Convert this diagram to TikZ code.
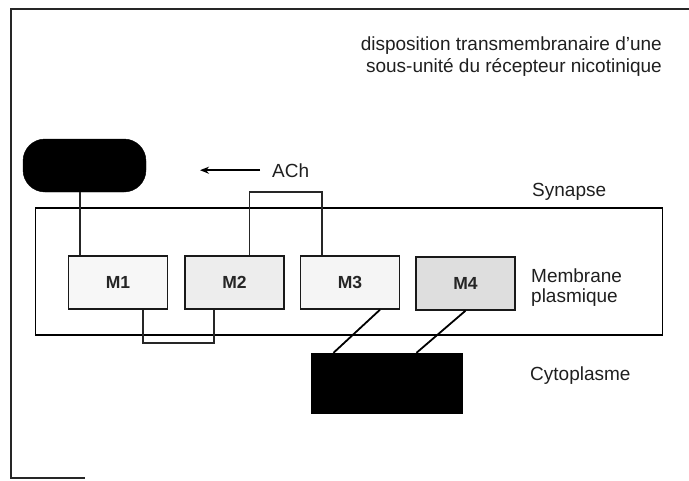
\documentclass[tikz,border=0pt]{standalone}
\usepackage{fontspec}
\setmainfont{Liberation Sans}
\usetikzlibrary{arrows.meta}
\begin{document}
\begin{tikzpicture}[x=1pt,y=-1pt,
  lbl/.style={inner sep=0pt,font=\fontsize{19}{22}\selectfont,text=black!88},
  mbox/.style={draw=black!90,line width=1.4pt,minimum width=99pt,minimum height=53pt,inner sep=0pt,
    font=\fontsize{17.5}{20}\selectfont\bfseries,text=black!85},
  conn/.style={draw=black!85,line width=1.1pt},
  diag/.style={draw=black,line width=1.8pt},
  frame/.style={draw=black!85,line width=1.8pt}]
\useasboundingbox (0,0) rectangle (689,480);
% outer frame
\coordinate (ftr) at (689,9);
\coordinate (ftl) at (11,9);
\coordinate (fbl) at (11,478);
\coordinate (fbr) at (85,478);
\draw[frame] (ftr) -- (ftl) -- (fbl) -- (fbr);
% title
\node[lbl,anchor=base east] (t1) at (662,50) {disposition transmembranaire d'une};
\node[lbl,anchor=base east] (t2) at (662,72) {sous-unité du récepteur nicotinique};
% membrane
\node[draw=black,line width=1.9pt,minimum width=627pt,minimum height=127pt,inner sep=0pt] (mem) at (349,271.5) {};
% pill (ligand side)
\node[draw=black,fill=black,rounded corners=22pt,minimum width=123pt,minimum height=53pt,inner sep=0pt] (pill) at (84.5,165.5) {};
% segments
\node[mbox,fill=black!3] (m1) at (118,282.5) {M1};
\node[mbox,fill=black!7] (m2) at (234.5,282.5) {M2};
\node[mbox,fill=black!4] (m3) at (350,282.5) {M3};
\node[mbox,fill=black!13] (m4) at (465.5,283.5) {M4};
% cytoplasmic block
\node[draw=black,fill=black,minimum width=151pt,minimum height=60pt,inner sep=0pt] (cyt) at (386.5,383) {};
% labels
\node[lbl,anchor=base west] (ach) at (272,177) {ACh};
\node[lbl,anchor=base west] (syn) at (532,196) {Synapse};
\node[lbl,anchor=base west] (mb1) at (531,282) {Membrane};
\node[lbl,anchor=base west] (mb2) at (531,302) {plasmique};
\node[lbl,anchor=base west] (cyto) at (530,380) {Cytoplasme};
% ACh arrow
\coordinate (achtip) at (200,171);
\draw[line width=1.5pt,-{Stealth[length=9pt,width=7pt]}] ([xshift=-12pt]ach.west) -- (achtip |- ach.west);
% pill to M1
\draw[conn] ([xshift=-38pt]m1.north) -- ([xshift=-38pt]m1.north |- pill.south);
% M2 - M3 extracellular loop
\coordinate (ltop) at (0,192);
\draw[conn] ([xshift=15pt]m2.north) -- ([xshift=15pt]m2.north |- ltop) -- ([xshift=-28pt]m3.north |- ltop) -- ([xshift=-28pt]m3.north);
% M1 - M2 intracellular loop
\coordinate (lbot) at (0,343);
\draw[conn] ([xshift=25pt]m1.south) -- ([xshift=25pt]m1.south |- lbot) -- ([xshift=-20.5pt]m2.south |- lbot) -- ([xshift=-20.5pt]m2.south);
% M3, M4 to cytoplasmic block
\draw[diag] ([xshift=30pt]m3.south) -- ([xshift=-53pt]cyt.north);
\draw[diag] ([xshift=0pt]m4.south) -- ([xshift=30pt]cyt.north);
\end{tikzpicture}
\end{document}
